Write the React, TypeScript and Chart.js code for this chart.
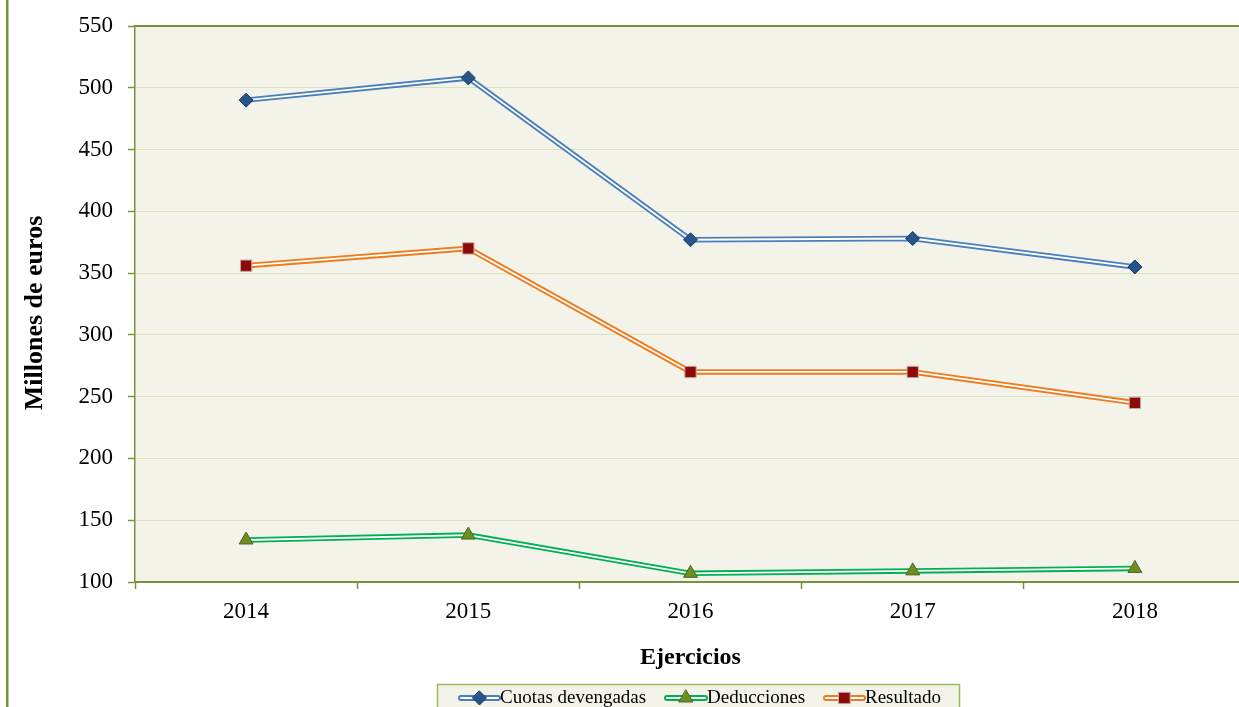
import React, { useEffect, useRef } from 'react';
import { Chart, registerables } from 'chart.js';

Chart.register(...registerables);

const years = ['2014', '2015', '2016', '2017', '2018'];
const cuotasDevengadas = [490, 508, 377, 378, 355];
const deducciones = [134, 138, 107, 109, 111];
const resultado = [356, 370, 270, 270, 245];

const seriesNames = ['Cuotas devengadas', 'Deducciones', 'Resultado'];
const seriesValues = [cuotasDevengadas, deducciones, resultado];
const lineColors = ['#4A7EBB', '#00B050', '#EE7B1E'];
const markerFill = ['#27548A', '#6E8F1E', '#8C0A0A'];
const markerBorder = ['#1B3A61', '#4F6228', '#C8A8A0'];
const markerStyle = ['rectRot', 'triangle', 'rect'];
const markerRadius = [7, 8, 8];

const yTitle = 'Millones de euros';
const xTitle = 'Ejercicios';

const FONT = "'Liberation Serif', 'Times New Roman', serif";
const AXIS_GREEN = '#77933C';

const VIEW_W = 1239;
const W = 1255;
const H = 707;

function drawMarker(ctx: CanvasRenderingContext2D, i: number, x: number, y: number) {
  ctx.save();
  ctx.fillStyle = markerFill[i];
  ctx.strokeStyle = markerBorder[i];
  ctx.lineWidth = 1;
  ctx.beginPath();
  const r = markerRadius[i];
  if (markerStyle[i] === 'rectRot') {
    ctx.moveTo(x, y - r);
    ctx.lineTo(x + r, y);
    ctx.lineTo(x, y + r);
    ctx.lineTo(x - r, y);
    ctx.closePath();
  } else if (markerStyle[i] === 'triangle') {
    ctx.moveTo(x, y - r);
    ctx.lineTo(x + r * 0.87, y + r * 0.5);
    ctx.lineTo(x - r * 0.87, y + r * 0.5);
    ctx.closePath();
  } else {
    const s = r * Math.SQRT1_2;
    ctx.rect(x - s, y - s, 2 * s, 2 * s);
  }
  ctx.fill();
  ctx.stroke();
  ctx.restore();
}

const decorPlugin = {
  id: 'decor',
  beforeDraw(chart: any) {
    const { ctx, chartArea } = chart;
    ctx.save();
    ctx.fillStyle = '#ffffff';
    ctx.fillRect(0, 0, chart.width, chart.height);
    ctx.fillStyle = '#F3F3EA';
    ctx.fillRect(chartArea.left, chartArea.top, chartArea.right - chartArea.left, chartArea.bottom - chartArea.top);
    ctx.restore();
  },
  afterDraw(chart: any) {
    const { ctx, chartArea } = chart;
    ctx.save();
    // top border of plot area
    ctx.strokeStyle = AXIS_GREEN;
    ctx.lineWidth = 2;
    ctx.beginPath();
    ctx.moveTo(chartArea.left, chartArea.top);
    ctx.lineTo(chartArea.right, chartArea.top);
    ctx.stroke();
    // left outer border
    ctx.fillStyle = AXIS_GREEN;
    ctx.fillRect(6, 0, 2.5, chart.height);

    // y axis title
    ctx.save();
    ctx.translate(35, 313);
    ctx.rotate(-Math.PI / 2);
    ctx.font = `bold 26px ${FONT}`;
    ctx.fillStyle = '#000000';
    ctx.textAlign = 'center';
    ctx.textBaseline = 'middle';
    ctx.fillText(yTitle, 0, 0);
    ctx.restore();

    // legend
    const bx = 437.5, by = 684.5, bw = 522, bh = 40;
    ctx.fillStyle = '#F3F3EA';
    ctx.fillRect(bx, by, bw, bh);
    ctx.strokeStyle = '#9BBB59';
    ctx.lineWidth = 1.5;
    ctx.strokeRect(bx, by, bw, bh);

    const items = [
      { x1: 461, x2: 498, tx: 500 },
      { x1: 667, x2: 705, tx: 707 },
      { x1: 826, x2: 863, tx: 865 },
    ];
    const ly = 698;
    ctx.font = `19px ${FONT}`;
    ctx.textBaseline = 'alphabetic';
    ctx.textAlign = 'left';
    items.forEach((it, i) => {
      ctx.strokeStyle = lineColors[i];
      ctx.lineWidth = 6;
      ctx.lineCap = 'round';
      ctx.beginPath();
      ctx.moveTo(it.x1, ly);
      ctx.lineTo(it.x2, ly);
      ctx.stroke();
      ctx.strokeStyle = '#ffffff';
      ctx.lineWidth = 2;
      ctx.beginPath();
      ctx.moveTo(it.x1, ly);
      ctx.lineTo(it.x2, ly);
      ctx.stroke();
      drawMarker(ctx, i, (it.x1 + it.x2) / 2, ly);
      ctx.fillStyle = '#000000';
      ctx.fillText(seriesNames[i], it.tx, 703);
    });
    ctx.restore();
  },
};

export default function App() {
  const canvasRef = useRef<HTMLCanvasElement | null>(null);

  useEffect(() => {
    document.body.style.margin = '0';
    document.body.style.overflow = 'hidden';
    const canvas = canvasRef.current;
    if (!canvas) return;

    const datasets: any[] = [];
    seriesValues.forEach((vals, i) => {
      datasets.push({
        label: seriesNames[i] + ' marker',
        data: vals,
        showLine: false,
        pointStyle: markerStyle[i],
        pointRadius: markerRadius[i],
        pointBackgroundColor: markerFill[i],
        pointBorderColor: markerBorder[i],
        pointBorderWidth: 1,
        order: 0,
      });
      datasets.push({
        label: seriesNames[i] + ' inner',
        data: vals,
        borderColor: '#ffffff',
        borderWidth: 1.8,
        pointRadius: 0,
        tension: 0,
        fill: false,
        order: 1,
      });
      datasets.push({
        label: seriesNames[i],
        data: vals,
        borderColor: lineColors[i],
        borderWidth: 5.5,
        pointRadius: 0,
        tension: 0,
        fill: false,
        order: 2,
      });
    });

    const chart = new Chart(canvas, {
      type: 'line',
      data: { labels: years, datasets },
      plugins: [decorPlugin],
      options: {
        responsive: false,
        animation: false,
        devicePixelRatio: 1,
        layout: { padding: { top: 26, right: 0, left: 0, bottom: 0 } },
        plugins: {
          legend: { display: false },
          tooltip: { enabled: false },
        },
        scales: {
          x: {
            offset: true,
            afterFit: (s: any) => { s.height = 125; },
            grid: {
              display: true,
              drawOnChartArea: false,
              drawTicks: true,
              offset: true,
              tickLength: 7,
              tickColor: AXIS_GREEN,
              tickWidth: 1.5,
            },
            border: { display: true, color: AXIS_GREEN, width: 2 },
            ticks: {
              color: '#000000',
              font: { family: FONT, size: 23 },
              padding: 9,
              maxRotation: 0,
            },
            title: {
              display: true,
              text: xTitle,
              color: '#000000',
              font: { family: FONT, size: 24, weight: 'bold' },
              padding: { top: 0, bottom: 35 },
            },
          },
          y: {
            min: 100,
            max: 550,
            afterFit: (s: any) => { s.width = 135; },
            grid: {
              color: '#D7E4BD',
              lineWidth: 1,
              drawTicks: true,
              tickLength: 7,
              tickColor: AXIS_GREEN,
              tickWidth: 1.5,
            },
            border: { display: true, color: AXIS_GREEN, width: 1.5 },
            ticks: {
              stepSize: 50,
              color: '#000000',
              font: { family: FONT, size: 23, lineHeight: 0.9 },
              padding: 15,
            },
            title: { display: false },
          },
        },
      },
    });

    return () => {
      chart.destroy();
    };
  }, []);

  return (
    <div style={{ position: 'fixed', left: 0, top: 0, width: VIEW_W, height: H, overflow: 'hidden', background: '#ffffff' }}>
      <div style={{ position: 'absolute', left: 0, top: 0, width: W, height: H }}>
        <canvas ref={canvasRef} width={W} height={H} style={{ width: W, height: H, display: 'block' }} />
      </div>
    </div>
  );
}
